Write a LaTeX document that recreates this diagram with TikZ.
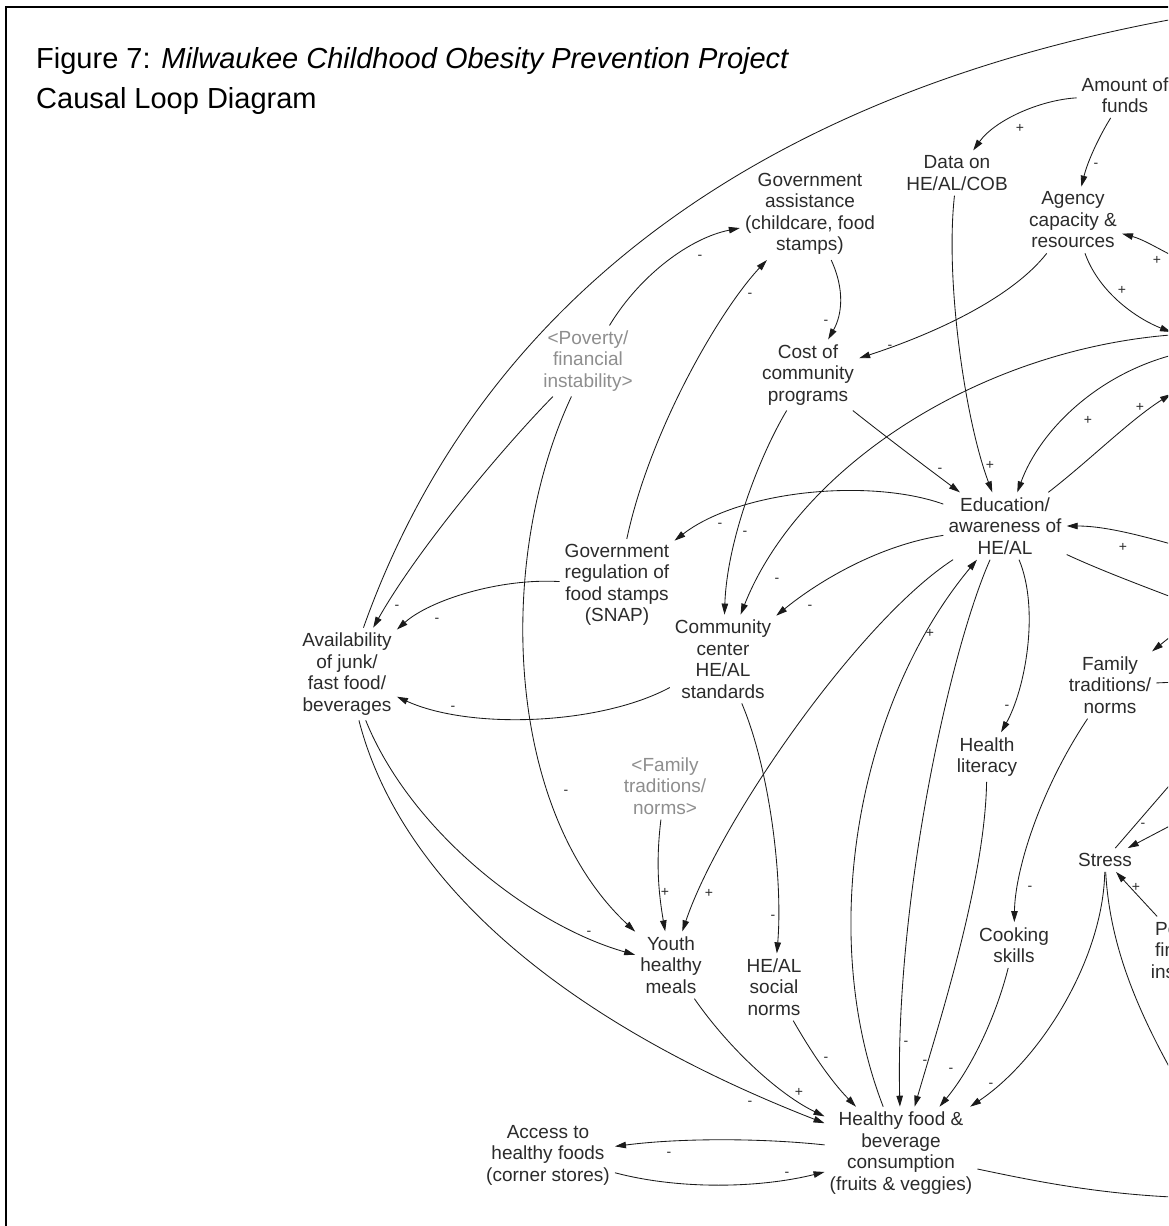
\documentclass[tikz,border=0pt]{standalone}
\usepackage{fontspec}
\setmainfont{Liberation Sans}
\usetikzlibrary{arrows.meta}
\definecolor{txt}{HTML}{2B2B2B}
\definecolor{gtx}{HTML}{8E8E8E}
\definecolor{lc}{HTML}{1A1A1A}
\begin{document}
\begin{tikzpicture}[x=1pt,y=-1pt,
  var/.style={align=center, inner sep=5pt, text=txt, font=\fontsize{19}{21.5}\selectfont},
  gvar/.style={var, text=gtx},
  pol/.style={inner sep=0pt, text=txt, font=\fontsize{14}{14}\selectfont},
  link/.style={draw=lc, line width=0.85pt, -{Triangle[length=11pt,width=6.5pt]}},
  ttl/.style={anchor=base west, inner sep=0pt, font=\fontsize{29}{34}\selectfont}]
\useasboundingbox (0,0) rectangle (1168,1226);
\clip (0,0) rectangle (1168,1226);
\draw[line width=2.4pt] (6,1240) -- (6,7) -- (1180,7);

% title
\node[ttl] (title1) at (36,68) {Figure 7: \textit{Milwaukee Childhood Obesity Prevention Project}};
\node[ttl] (title2) at (36,108) {Causal Loop Diagram};

% variables
\node[var] (funds) at (1125,95) {Amount of\\funds};
\node[var] (data) at (957,173) {Data on\\HE/AL/COB};
\node[var] (gasst) at (810,214) {Government\\assistance\\(childcare, food\\stamps)};
\node[var] (agency) at (1073,220) {Agency\\capacity \&\\resources};
\node[gvar] (pov) at (588,361) {<Poverty/\\financial\\instability>};
\node[var] (cost) at (808,375) {Cost of\\community\\programs};
\node[var] (edu) at (1005,526) {Education/\\awareness of\\HE/AL};
\node[var] (greg) at (617,585) {Government\\regulation of\\food stamps\\(SNAP)};
\node[var] (cc) at (723,659) {Community\\center\\HE/AL\\standards};
\node[var] (avail) at (347,674) {Availability\\of junk/\\fast food/\\beverages};
\node[var] (fam) at (1110,685) {Family\\traditions/\\norms};
\node[var] (hlit) at (987,757) {Health\\literacy};
\node[gvar] (gfam) at (665,786) {<Family\\traditions/\\norms>};
\node[var] (stress) at (1105,860) {Stress};
\node[var] (youth) at (671,965) {Youth\\healthy\\meals};
\node[var] (social) at (774,987) {HE/AL\\social\\norms};
\node[var] (cook) at (1014,945) {Cooking\\skills};
\node[var] (pov2) at (1190,952) {Poverty/\\financial\\instability};
\node[var] (access) at (548,1155) {Access to\\healthy foods\\(corner stores)};
\node[var] (health) at (901,1153) {Healthy food \&\\beverage\\consumption\\(fruits \& veggies)};

% off-picture ends
\coordinate (oT) at (1185,17);
\coordinate (oR1) at (1185,262);
\coordinate (oR2) at (1171,332);
\coordinate (oR3) at (1185,334);
\coordinate (oR4) at (1185,352);
\coordinate (oR5) at (1171,394);
\coordinate (oR6) at (1185,548);
\coordinate (oR7) at (1195,606);
\coordinate (oR8) at (1185,625);
\coordinate (oR9) at (1200,681);
\coordinate (oR10) at (1185,818);
\coordinate (oR11) at (1200,750);
\coordinate (oR12) at (1200,1120);
\coordinate (oR13) at (1200,1198);

% connectors
\draw[link] (avail) .. controls (480,300) and (760,95) .. (oT);
\draw[link] (pov) .. controls (510,440) and (420,545) .. (avail);
\draw[link] (pov) .. controls (640,275) and (690,238) .. (gasst);
\draw[link] (greg) .. controls (650,430) and (720,310) .. (gasst);
\draw[link] (gasst) .. controls (845,290) and (842,315) .. (cost);
\draw[link] (agency) .. controls (1010,300) and (930,335) .. (cost);
\draw[link] (funds) .. controls (1040,100) and (995,120) .. (data);
\draw[link] (funds) .. controls (1100,135) and (1088,160) .. (agency);
\draw[link] (oR1) .. controls (1160,250) and (1145,240) .. (agency);
\draw[link] (agency) .. controls (1100,295) and (1140,320) .. (oR2);
\draw[link] (data) .. controls (945,280) and (965,420) .. (edu);
\draw[link] (cost) .. controls (890,440) and (930,470) .. (edu);
\draw[link] (oR3) .. controls (985,345) and (800,465) .. (cc);
\draw[link] (cost) .. controls (760,455) and (727,540) .. (cc);
\draw[link] (edu) .. controls (880,545) and (820,580) .. (cc);
\draw[link] (edu) .. controls (870,478) and (740,490) .. (greg);
\draw[link] (edu) .. controls (860,620) and (720,820) .. (youth);
\draw[link] (health) .. controls (815,930) and (860,700) .. (edu);
\draw[link] (edu) .. controls (950,650) and (895,900) .. (health);
\draw[link] (health) .. controls (760,1138) and (680,1138) .. (access);
\draw[link] (access) .. controls (680,1190) and (760,1188) .. (health);
\draw[link] (avail) .. controls (410,830) and (530,925) .. (youth);
\draw[link] (avail) .. controls (400,880) and (560,1020) .. (health);
\draw[link] (pov) .. controls (495,560) and (505,810) .. (youth);
\draw[link] (gfam) .. controls (656,860) and (658,890) .. (youth);
\draw[link] (cc) .. controls (770,770) and (783,880) .. (social);
\draw[link] (youth) .. controls (730,1050) and (780,1095) .. (health);
\draw[link] (social) .. controls (810,1050) and (830,1080) .. (health);
\draw[link] (hlit) .. controls (985,880) and (940,1020) .. (health);
\draw[link] (cook) .. controls (995,1020) and (970,1070) .. (health);
\draw[link] (fam) .. controls (1040,790) and (1015,870) .. (cook);
\draw[link] (edu) .. controls (1040,610) and (1025,690) .. (hlit);
\draw[link] (oR4) .. controls (1100,370) and (1040,430) .. (edu);
\draw[link] (edu) .. controls (1090,460) and (1130,420) .. (oR5);
\draw[link] (oR6) .. controls (1130,532) and (1100,526) .. (edu);
\draw[link] (edu) .. controls (1100,570) and (1140,585) .. (oR7);
\draw[link] (oR8) -- (fam);
\draw[link] (fam) -- (oR9);
\draw[link] (oR10) -- (stress);
\draw[link] (stress) -- (oR11);
\draw[link] (pov2) -- (stress);
\draw[link] (stress) .. controls (1103,960) and (1040,1060) .. (health);
\draw[link] (stress) .. controls (1110,950) and (1140,1020) .. (oR12);
\draw[link] (health) .. controls (1030,1180) and (1100,1195) .. (oR13);
\draw[link] (greg) .. controls (500,578) and (430,600) .. (avail);
\draw[link] (cc) .. controls (600,725) and (470,730) .. (avail);

% polarities
\node[pol] (p1) at (1020,128) {+};
\node[pol] (p2) at (1096,165) {-};
\node[pol] (p3) at (1157,260) {+};
\node[pol] (p4) at (1122,290) {+};
\node[pol] (p5) at (700,257) {-};
\node[pol] (p6) at (750,295) {-};
\node[pol] (p7) at (826,322) {-};
\node[pol] (p8) at (890,347) {-};
\node[pol] (p9) at (990,465) {+};
\node[pol] (p10) at (940,470) {-};
\node[pol] (p11) at (1088,420) {+};
\node[pol] (p12) at (1140,407) {+};
\node[pol] (p13) at (720,525) {-};
\node[pol] (p14) at (745,533) {-};
\node[pol] (p15) at (777,580) {-};
\node[pol] (p16) at (810,607) {-};
\node[pol] (p17) at (397,607) {-};
\node[pol] (p18) at (437,620) {-};
\node[pol] (p19) at (453,708) {-};
\node[pol] (p20) at (1123,547) {+};
\node[pol] (p21) at (930,633) {+};
\node[pol] (p22) at (1007,707) {-};
\node[pol] (p23) at (566,792) {-};
\node[pol] (p24) at (665,892) {+};
\node[pol] (p25) at (709,893) {+};
\node[pol] (p26) at (773,917) {-};
\node[pol] (p27) at (1030,888) {-};
\node[pol] (p28) at (1143,825) {-};
\node[pol] (p29) at (1136,887) {+};
\node[pol] (p30) at (589,933) {-};
\node[pol] (p31) at (799,1092) {+};
\node[pol] (p32) at (826,1059) {-};
\node[pol] (p33) at (906,1043) {-};
\node[pol] (p34) at (925,1062) {-};
\node[pol] (p35) at (951,1070) {-};
\node[pol] (p36) at (991,1085) {-};
\node[pol] (p37) at (750,1103) {-};
\node[pol] (p38) at (669,1154) {-};
\node[pol] (p39) at (787,1174) {-};
\end{tikzpicture}
\end{document}
